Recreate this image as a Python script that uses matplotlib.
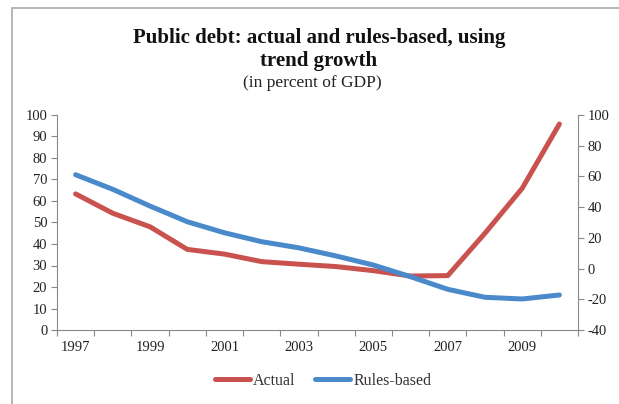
import matplotlib
matplotlib.use("Agg")
import matplotlib.pyplot as plt
from matplotlib.patches import Rectangle
import numpy as np

years = [1997, 1998, 1999, 2000, 2001, 2002, 2003, 2004, 2005, 2006, 2007, 2008, 2009, 2010]
actual = [63.3, 54.3, 48.0, 37.5, 35.3, 31.8, 30.6, 29.5, 27.6, 25.1, 25.3, 45.0, 65.9, 95.8]
rules_based = [61.1, 51.6, 40.7, 30.5, 23.3, 17.5, 13.5, 8.2, 2.3, -5.3, -13.5, -18.7, -19.8, -17.2]
tick_years = [1997, 1999, 2001, 2003, 2005, 2007, 2009]
left_ticks = list(range(0, 101, 10))
right_ticks = list(range(-40, 101, 20))

plt.rcParams['font.family'] = ['Liberation Serif', 'DejaVu Serif']
plt.rcParams['axes.unicode_minus'] = False

fig = plt.figure(figsize=(6.19, 4.04), dpi=100)
ax = fig.add_axes([57/619, 1-330/404, (578-57)/619, (330-115)/404])
ax2 = ax.twinx()

red = '#C9524E'
blue = '#4A8ACB'
x = np.arange(len(years))
l1, = ax.plot(x, actual, color=red, lw=3.6, solid_capstyle='round', solid_joinstyle='round', label='Actual')
l2, = ax2.plot(x, rules_based, color=blue, lw=3.6, solid_capstyle='round', solid_joinstyle='round', label='Rules-based')

ax.set_xlim(-0.5, len(years) - 0.5)
ax.set_ylim(0, 100)
ax2.set_ylim(-40, 100)
ax.set_yticks(left_ticks)
ax2.set_yticks(right_ticks)

ax.set_xticks(np.arange(-0.5, len(years), 1.0))
ax.set_xticklabels([])
ax.set_xticks([years.index(y) for y in tick_years], minor=True)
ax.set_xticklabels([str(y) for y in tick_years], minor=True)
ax.tick_params(axis='x', which='major', length=4, width=0.8, color='#888888')
ax.tick_params(axis='x', which='minor', length=0, pad=8, labelsize=10.5, labelcolor='#222222')
ax.tick_params(axis='y', length=4, width=0.8, color='#888888', labelsize=10.5, labelcolor='#222222', pad=3)
ax2.tick_params(axis='y', length=4, width=0.8, color='#888888', labelsize=10.5, labelcolor='#222222', pad=3)

for a in (ax, ax2):
    a.spines['top'].set_visible(False)
    for s in ('left', 'right', 'bottom'):
        a.spines[s].set_color('#888888')
        a.spines[s].set_linewidth(0.8)
ax.spines['right'].set_visible(False)
ax2.spines['left'].set_visible(False)
ax2.spines['bottom'].set_visible(False)

fig.text(0.515, 1-38/404, 'Public debt: actual and rules-based, using', ha='center', va='center',
         fontsize=15, fontweight='bold', color='#111111')
fig.text(0.515, 1-61/404, 'trend growth', ha='center', va='center',
         fontsize=15, fontweight='bold', color='#111111')
fig.text(0.505, 1-83/404, '(in percent of GDP)', ha='center', va='center',
         fontsize=12.5, color='#222222')

fig.legend(handles=[l1, l2], loc='center', bbox_to_anchor=(0.522, 1-381/404), ncol=2, frameon=False,
           fontsize=11.5, handlelength=2.2, handletextpad=0.2, columnspacing=1.2,
           labelcolor='#333333')

fig.add_artist(Rectangle((12/619, -0.05), 1.0, 1-8/404 + 0.05, transform=fig.transFigure,
                         fill=False, edgecolor='#AAAAAA', lw=1.2))

fig.savefig('out.png', dpi=100)
